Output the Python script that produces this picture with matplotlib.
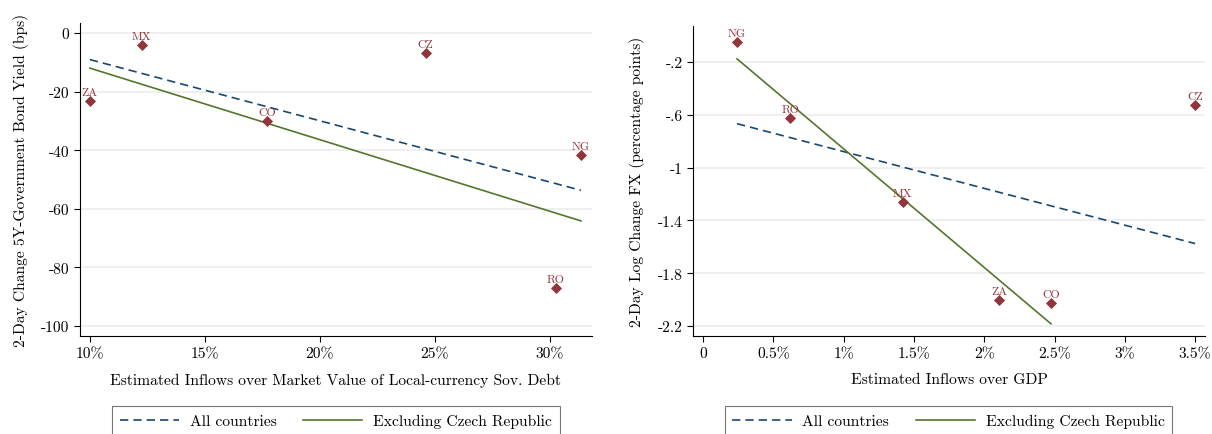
import matplotlib.pyplot as plt
import numpy as np

plt.rcParams["font.family"] = ["cmr10", "DejaVu Serif"]
plt.rcParams["axes.unicode_minus"] = False

countries_l = ["ZA", "MX", "CO", "CZ", "NG", "RO"]
inflow_debt = [10.0, 12.26, 17.7, 24.6, 31.35, 30.26]
bond_yield = [-23.2, -4.1, -30.0, -6.8, -41.6, -87.0]
xticks_l = [10, 15, 20, 25, 30]
xticklabels_l = ["10%", "15%", "20%", "25%", "30%"]
yticks_l = [0, -20, -40, -60, -80, -100]
yticklabels_l = ["0", "-20", "-40", "-60", "-80", "-100"]

countries_r = ["NG", "RO", "MX", "ZA", "CO", "CZ"]
inflow_gdp = [0.242, 0.619, 1.42, 2.105, 2.475, 3.5]
fx_change = [-0.048, -0.624, -1.261, -2.003, -2.025, -0.526]
xticks_r = [0, 0.5, 1, 1.5, 2, 2.5, 3, 3.5]
xticklabels_r = ["0", "0.5%", "1%", "1.5%", "2%", "2.5%", "3%", "3.5%"]
yticks_r = [-0.2, -0.6, -1.0, -1.4, -1.8, -2.2]
yticklabels_r = ["-.2", "-.6", "-1", "-1.4", "-1.8", "-2.2"]

navy = "#1A476F"
green = "#55752F"
maroon = "#90353B"
fs = 11.2


def fit_line(ax, x, y, **kw):
    x = np.asarray(x)
    y = np.asarray(y)
    b, a = np.polyfit(x, y, 1)
    xs = np.array([x.min(), x.max()])
    return ax.plot(xs, a + b * xs, **kw)[0]


def panel(ax, names, x, y, xt, xtl, yt, ytl, xlabel, ylabel):
    keep = [i for i, n in enumerate(names) if n != "CZ"]
    for t in yt:
        ax.axhline(t, color="#ececec", lw=1.2, zorder=0)
    h1 = fit_line(ax, x, y, color=navy, ls=(0, (5, 3)), lw=1.2, zorder=2)
    h2 = fit_line(ax, [x[i] for i in keep], [y[i] for i in keep],
                  color=green, lw=1.2, zorder=2)
    ax.scatter(x, y, marker="D", s=32, color=maroon, zorder=3, lw=0)
    for n, xi, yi in zip(names, x, y):
        ax.annotate(n, (xi, yi), xytext=(0, 3), textcoords="offset points",
                    ha="center", va="bottom", color=maroon, fontsize=8.5)
    ax.set_xticks(xt)
    ax.set_xticklabels(xtl, fontsize=fs)
    ax.set_yticks(yt)
    ax.set_yticklabels(ytl, fontsize=fs)
    ax.set_xlabel(xlabel, fontsize=fs, labelpad=9)
    ax.set_ylabel(ylabel, fontsize=fs, labelpad=9)
    ax.spines["top"].set_visible(False)
    ax.spines["right"].set_visible(False)
    ax.tick_params(direction="out", length=4, width=0.8)
    return h1, h2


fig = plt.figure(figsize=(12.12, 4.35), dpi=100)
ax1 = fig.add_axes([0.066, 0.2253, 0.4224, 0.7195])
ax2 = fig.add_axes([0.5718, 0.2253, 0.4224, 0.7126])

h1, h2 = panel(ax1, countries_l, inflow_debt, bond_yield, xticks_l, xticklabels_l,
               yticks_l, yticklabels_l,
               "Estimated Inflows over Market Value of Local-currency Sov. Debt",
               "2-Day Change 5Y-Government Bond Yield (bps)")
ax1.set_xlim(9.57, 31.83)
ax1.set_ylim(-103.4, 3.4)

g1, g2 = panel(ax2, countries_r, inflow_gdp, fx_change, xticks_r, xticklabels_r,
               yticks_r, yticklabels_r, "Estimated Inflows over GDP",
               "2-Day Log Change FX (percentage points)")
ax2.set_xlim(-0.071, 3.57)
ax2.set_ylim(-2.276, 0.073)

for h, cx in [((h1, h2), 0.2772), ((g1, g2), 0.7826)]:
    leg = fig.legend(h, ["All countries", "Excluding Czech Republic"], ncol=2,
                     loc="upper center", bbox_to_anchor=(cx, 0.0644),
                     borderaxespad=0, fontsize=fs, fancybox=False,
                     edgecolor="#555555", handlelength=3.8, columnspacing=1.7,
                     handletextpad=0.7, borderpad=0.5)
    leg.get_frame().set_linewidth(0.8)

fig.savefig("out.png", dpi=100)
